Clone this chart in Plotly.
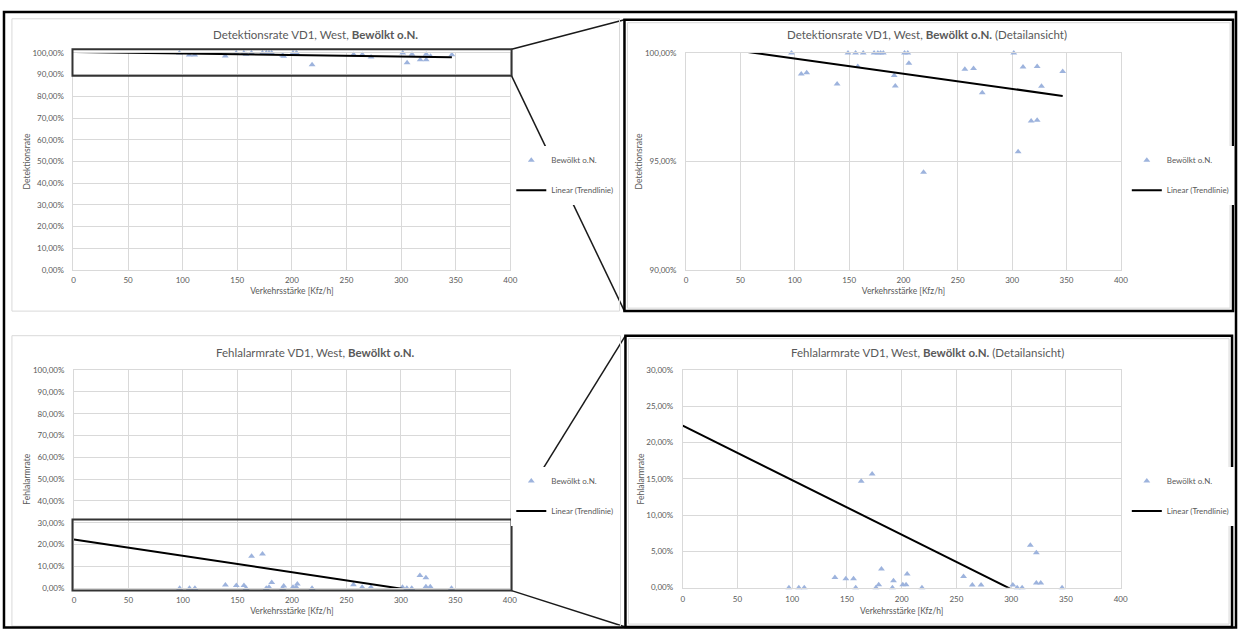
import numpy as np
import plotly.graph_objects as go

W, H = 1245, 634

# ---------------- data ----------------
verkehrsstaerke = [97, 106, 111, 139, 149, 156, 158, 163, 173, 176.5, 179, 181.5,
                   191.5, 192.5, 201, 204, 205, 218.5, 256.5, 264.5, 272.5, 301.5,
                   305.5, 310, 317.5, 323, 323, 327, 346.5]
detektionsrate = [1.0, 0.9903, 0.9909, 0.9857, 1.0, 1.0, 0.9937, 1.0, 1.0, 1.0, 1.0, 1.0,
                  0.9896, 0.9848, 1.0, 1.0, 0.9952, 0.945, 0.9925, 0.9928, 0.9817, 1.0,
                  0.9545, 0.9935, 0.9687, 0.969, 0.9938, 0.9846, 0.9914]
fehlalarmrate = [0.0, 0.0, 0.0, 0.0140, 0.0122, 0.0122, 0.0, 0.1468, 0.1568, 0.0, 0.0041, 0.0258,
                 0.0, 0.0095, 0.0041, 0.0041, 0.019, 0.0, 0.0154, 0.0036, 0.0036, 0.0036,
                 0.0, 0.0, 0.0585, 0.048, 0.0063, 0.0063, 0.0]
# linear trend lines as shown (intercept, slope per Kfz/h)
trend_det = (1.0044, -0.0000698)
trend_fa = (0.2235, -0.000752)

series_name = "Bewölkt o.N."
trend_name = "Linear (Trendlinie)"
titles = ["Detektionsrate VD1, West, <b>Bewölkt o.N.</b>",
          "Detektionsrate VD1, West, <b>Bewölkt o.N.</b> (Detailansicht)",
          "Fehlalarmrate VD1, West, <b>Bewölkt o.N.</b>",
          "Fehlalarmrate VD1, West, <b>Bewölkt o.N.</b> (Detailansicht)"]

# ---------------- styling ----------------
FONT = "Lato"
TXT = "#595959"
GRID = "#D9D9D9"
MARK = "#9DB3DD"


def px(x):
    return x / W


def py(y):
    return 1 - y / H


# plot areas in pixels: (left, right, top, bottom)
areas = [(72, 512, 48.7, 269.3), (689, 1127, 48.7, 269.3),
         (72.5, 511.5, 371, 592.5), (685.7, 1126.8, 371, 592)]
yranges = [[0, 1], [0.9, 1.0], [0, 1], [0, 0.3]]
ydticks = [0.1, 0.05, 0.1, 0.05]
ytitles = ["Detektionsrate", "Detektionsrate", "Fehlalarmrate", "Fehlalarmrate"]
yvals = [detektionsrate, detektionsrate, fehlalarmrate, fehlalarmrate]
trends = [trend_det, trend_det, trend_fa, trend_fa]
title_pos = [(316, 30), (931.6, 30), (316, 353), (932.7, 352.7)]
legend_pos = [(513, 143), (1133, 143), (513, 469), (1133, 469)]
xlab_standoff = [2, 2, 4, 4]

fig = go.Figure()
xt = np.array([0, max(verkehrsstaerke)])
for i in range(4):
    sfx = "" if i == 0 else str(i + 1)
    leg = "legend" + sfx
    b, m = trends[i]
    fig.add_trace(go.Scatter(x=verkehrsstaerke, y=yvals[i], mode="markers",
                             name=series_name, legend=leg, legendgroup="a" + sfx,
                             marker=dict(symbol="triangle-up", size=6, color=MARK),
                             cliponaxis=False,
                             xaxis="x" + sfx, yaxis="y" + sfx))
    fig.add_trace(go.Scatter(x=xt, y=b + m * xt, mode="lines",
                             name=trend_name, legend=leg, legendgroup="b" + sfx,
                             line=dict(color="black", width=2),
                             xaxis="x" + sfx, yaxis="y" + sfx))

layout = dict(width=W, height=H, margin=dict(l=0, r=0, t=0, b=0),
              paper_bgcolor="white", plot_bgcolor="white",
              separators=",.", font=dict(family=FONT, color=TXT),
              shapes=[], annotations=[])

for i in range(4):
    sfx = "" if i == 0 else str(i + 1)
    l, r, t, bt = areas[i]
    layout["xaxis" + sfx] = dict(
        domain=[px(l), px(r)], anchor="y" + sfx, range=[0, 400], dtick=50, tick0=0,
        showgrid=True, gridcolor=GRID, gridwidth=1, zeroline=False,
        showline=True, linecolor=GRID, linewidth=1, mirror=True,
        ticks="", ticklabelstandoff=xlab_standoff[i], fixedrange=True,
        tickfont=dict(family=FONT, size=8, color=TXT),
        title=dict(text="Verkehrsstärke [Kfz/h]", standoff=4,
                   font=dict(family=FONT, size=8.5, color=TXT)))
    layout["yaxis" + sfx] = dict(
        domain=[py(bt), py(t)], anchor="x" + sfx, range=yranges[i], dtick=ydticks[i],
        tick0=0, tickformat=".2%",
        showgrid=True, gridcolor=GRID, gridwidth=1, zeroline=False,
        showline=True, linecolor=GRID, linewidth=1, mirror=True,
        ticks="", ticklabelstandoff=7, fixedrange=True,
        tickfont=dict(family=FONT, size=8, color=TXT),
        title=dict(text=ytitles[i], standoff=0,
                   font=dict(family=FONT, size=8.5, color=TXT)))
    lx, ly = legend_pos[i]
    layout["legend" + sfx] = dict(
        x=px(lx), y=py(ly), xanchor="left", yanchor="top",
        bgcolor="white", borderwidth=0, tracegroupgap=11,
        font=dict(family=FONT, size=8, color=TXT))
    tx, ty = title_pos[i]
    layout["annotations"].append(dict(
        text=titles[i], x=px(tx), y=py(ty), xref="paper", yref="paper",
        xanchor="center", yanchor="middle", showarrow=False,
        font=dict(family=FONT, size=11.5, color=TXT)))


def rect(x0, y0, x1, y1, color, width):
    return dict(type="rect", xref="paper", yref="paper", x0=px(x0), x1=px(x1),
                y0=py(y1), y1=py(y0), line=dict(color=color, width=width),
                fillcolor="rgba(0,0,0,0)", layer="above")


def seg(x0, y0, x1, y1, color="#1a1a1a", width=1.5):
    return dict(type="line", xref="paper", yref="paper", x0=px(x0), x1=px(x1),
                y0=py(y0), y1=py(y1), line=dict(color=color, width=width), layer="below")


layout["shapes"] += [
    rect(10, 14, 622, 311, GRID, 1),
    rect(10, 336, 623, 631, GRID, 1),
    rect(630, 18, 1237, 308, GRID, 1),
    rect(631, 339, 1236, 629, GRID, 1),
    seg(513.3, 45, 627, 15),
    seg(513.3, 72, 627, 311),
    seg(513.3, 522.7, 628, 336),
    seg(513.3, 595, 628, 632),
    rect(71, 45, 513.3, 72, "#333333", 2),
    rect(71, 522.7, 513.3, 595, "#333333", 2),
    rect(627, 15, 1240, 311, "black", 2.5),
    rect(628, 336, 1239, 632, "black", 2.5),
    rect(2, 7, 1243, 632.5, "black", 2.5),
]

fig.update_layout(**layout)
fig.write_html("out.html", config={"displayModeBar": False},
               post_script="document.body.style.margin='0px';")
